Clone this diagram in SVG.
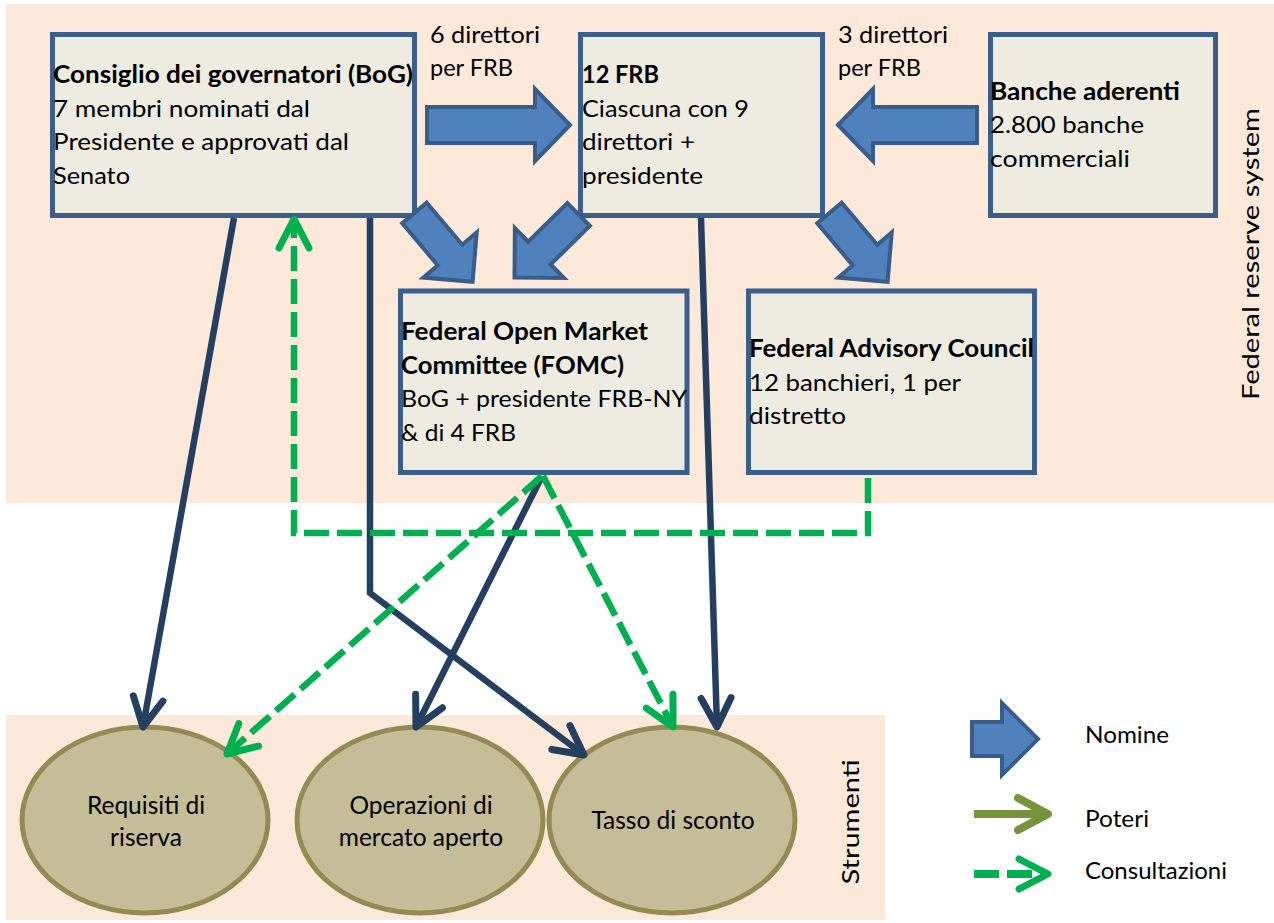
<svg xmlns="http://www.w3.org/2000/svg" width="1274" height="923" viewBox="0 0 1274 923">
<style>
  .band{fill:#FDE9D9;}
  .box{fill:#EEECE1;stroke:#3B5F8C;stroke-width:5;}
  .ell{fill:#C4BD97;stroke:#948A54;stroke-width:5;}
  .blk{fill:#4F81BD;stroke:#385D8A;stroke-width:4;stroke-linejoin:miter;}
  .t{font-family:Lato,"Liberation Sans",sans-serif;font-size:24px;fill:#000;}
  .b{font-weight:700;}
  .et{font-family:Lato,"Liberation Sans",sans-serif;font-size:24.5px;fill:#000;text-anchor:middle;}
  .lg{font-family:Lato,"Liberation Sans",sans-serif;font-size:22.5px;fill:#000;}
  .navy{fill:none;stroke:#243F60;stroke-width:6.5;stroke-linejoin:miter;marker-end:url(#mNavy);}
  .green{fill:none;stroke:#00B050;stroke-width:6.5;stroke-dasharray:25 8;marker-end:url(#mGreen);}
</style>
<defs>
  <marker id="mNavy" viewBox="-40 -25 50 50" markerWidth="50" markerHeight="50" refX="0" refY="0" orient="auto" markerUnits="userSpaceOnUse" overflow="visible">
    <path d="M-29,-15 L0,0 L-29,15" fill="none" stroke="#243F60" stroke-width="7" stroke-linecap="round" stroke-linejoin="round"/>
  </marker>
  <marker id="mGreen" viewBox="-40 -25 50 50" markerWidth="50" markerHeight="50" refX="0" refY="0" orient="auto" markerUnits="userSpaceOnUse" overflow="visible">
    <path d="M-29,-15 L0,0 L-29,15" fill="none" stroke="#00B050" stroke-width="7" stroke-linecap="round" stroke-linejoin="round" stroke-dasharray="none"/>
  </marker>
  <marker id="mOlive" viewBox="-40 -25 50 50" markerWidth="50" markerHeight="50" refX="0" refY="0" orient="auto" markerUnits="userSpaceOnUse" overflow="visible">
    <path d="M-30,-16 L0,0 L-30,16" fill="none" stroke="#77933C" stroke-width="8" stroke-linecap="round" stroke-linejoin="round"/>
  </marker>
  <path id="diag" d="M0,-16 H55 V-35 L90,0 L55,35 V16 H0 Z"/>
  <path id="horiz" d="M0,-18 H108 V-36 L143,0 L108,36 V18 H0 Z"/>
  <path id="horizL" d="M0,-18 H104 V-36 L139,0 L104,36 V18 H0 Z"/>
</defs>

<g id="backgrounds">
  <rect class="band" x="6" y="4" width="1268" height="499"/>
  <rect class="band" x="6" y="715" width="879" height="205"/>
  <text class="t" transform="translate(1259,254) rotate(-90)" x="-146" y="0" textLength="292" lengthAdjust="spacingAndGlyphs">Federal reserve system</text>
  <text class="t" transform="translate(859,822) rotate(-90)" x="-62.5" y="0" textLength="125" lengthAdjust="spacingAndGlyphs">Strumenti</text>
</g>

<g id="requisiti">
  <ellipse class="ell" cx="145" cy="820" rx="123" ry="93"/>
  <text class="et" x="146" y="814">Requisiti di</text>
  <text class="et" x="146" y="846">riserva</text>
</g>
<g id="operazioni">
  <ellipse class="ell" cx="420" cy="820" rx="123" ry="93"/>
  <text class="et" x="421" y="814">Operazioni di</text>
  <text class="et" x="421" y="846">mercato aperto</text>
</g>
<g id="tasso">
  <ellipse class="ell" cx="672" cy="820" rx="123" ry="93"/>
  <text class="et" x="673" y="829">Tasso di sconto</text>
</g>

<g id="bog">
  <rect class="box" x="52.5" y="34.5" width="362" height="181"/>
  <text class="t b" x="53" y="83" textLength="360" lengthAdjust="spacingAndGlyphs">Consiglio dei governatori (BoG)</text>
  <text class="t" x="53" y="117" textLength="257" lengthAdjust="spacingAndGlyphs">7 membri nominati dal</text>
  <text class="t" x="53" y="150" textLength="296" lengthAdjust="spacingAndGlyphs">Presidente e approvati dal</text>
  <text class="t" x="53" y="184" textLength="77" lengthAdjust="spacingAndGlyphs">Senato</text>
</g>
<g id="frb">
  <rect class="box" x="580.5" y="34.5" width="242" height="181"/>
  <text class="t b" x="582" y="83" textLength="77" lengthAdjust="spacingAndGlyphs">12 FRB</text>
  <text class="t" x="582" y="117" textLength="167" lengthAdjust="spacingAndGlyphs">Ciascuna con 9</text>
  <text class="t" x="582" y="150" textLength="113" lengthAdjust="spacingAndGlyphs">direttori +</text>
  <text class="t" x="582" y="184" textLength="121" lengthAdjust="spacingAndGlyphs">presidente</text>
</g>
<g id="banche">
  <rect class="box" x="990.5" y="34.5" width="225" height="181"/>
  <text class="t b" x="990" y="100" textLength="190" lengthAdjust="spacingAndGlyphs">Banche aderenti</text>
  <text class="t" x="990" y="133" textLength="154" lengthAdjust="spacingAndGlyphs">2.800 banche</text>
  <text class="t" x="990" y="167" textLength="140" lengthAdjust="spacingAndGlyphs">commerciali</text>
</g>
<g id="fomc">
  <rect class="box" x="400.5" y="291" width="286.5" height="181.5"/>
  <text class="t b" x="401" y="340" textLength="247" lengthAdjust="spacingAndGlyphs">Federal Open Market</text>
  <text class="t b" x="401" y="374" textLength="223" lengthAdjust="spacingAndGlyphs">Committee (FOMC)</text>
  <text class="t" x="401" y="407" textLength="286" lengthAdjust="spacingAndGlyphs">BoG + presidente FRB-NY</text>
  <text class="t" x="401" y="441" textLength="115" lengthAdjust="spacingAndGlyphs">&amp; di 4 FRB</text>
</g>
<g id="fac">
  <rect class="box" x="748.5" y="291" width="286" height="181.5"/>
  <text class="t b" x="749" y="357" textLength="285" lengthAdjust="spacingAndGlyphs">Federal Advisory Council</text>
  <text class="t" x="749" y="391" textLength="212" lengthAdjust="spacingAndGlyphs">12 banchieri, 1 per</text>
  <text class="t" x="749" y="424" textLength="97" lengthAdjust="spacingAndGlyphs">distretto</text>
</g>

<g id="connectors">
  <use href="#horiz" class="blk" transform="translate(427,125)"/>
  <use href="#horizL" class="blk" transform="translate(977,125) rotate(180)"/>
  <use href="#diag" class="blk" transform="translate(414.5,213) rotate(49.8)"/>
  <use href="#diag" class="blk" transform="translate(578.6,214.4) rotate(135.4)"/>
  <use href="#diag" class="blk" transform="translate(829.5,213) rotate(49.8)"/>
  <text class="t" x="430" y="43" textLength="110" lengthAdjust="spacingAndGlyphs">6 direttori</text>
  <text class="t" x="430" y="76" textLength="83" lengthAdjust="spacingAndGlyphs">per FRB</text>
  <text class="t" x="838" y="43" textLength="110" lengthAdjust="spacingAndGlyphs">3 direttori</text>
  <text class="t" x="838" y="76" textLength="83" lengthAdjust="spacingAndGlyphs">per FRB</text>

  <path class="navy" d="M234,218 L143,727"/>
  <path class="navy" d="M370,218 L370,593 L584,755"/>
  <path class="navy" d="M541,478 L416,727"/>
  <path class="navy" d="M701,218 L717,727"/>

  <path class="green" d="M868,478 L868,533 L294,533 L294,219"/>
  <path class="green" d="M542,476 L227,754"/>
  <path class="green" d="M543,476 L673,727"/>
</g>

<g id="legend">
  <path d="M0,-17 H30 V-36 L66,0 L30,36 V17 H0 Z" class="blk" transform="translate(972,739)"/>
  <text class="lg" x="1085" y="743" textLength="84" lengthAdjust="spacingAndGlyphs">Nomine</text>
  <path d="M974,814 L1048,814" fill="none" stroke="#77933C" stroke-width="8" marker-end="url(#mOlive)"/>
  <text class="lg" x="1085" y="827" textLength="64" lengthAdjust="spacingAndGlyphs">Poteri</text>
  <path d="M974,874 L1048,874" fill="none" stroke="#00B050" stroke-width="8" stroke-dasharray="25 8" marker-end="url(#mGreen)"/>
  <text class="lg" x="1085" y="879" textLength="142" lengthAdjust="spacingAndGlyphs">Consultazioni</text>
</g>
</svg>
